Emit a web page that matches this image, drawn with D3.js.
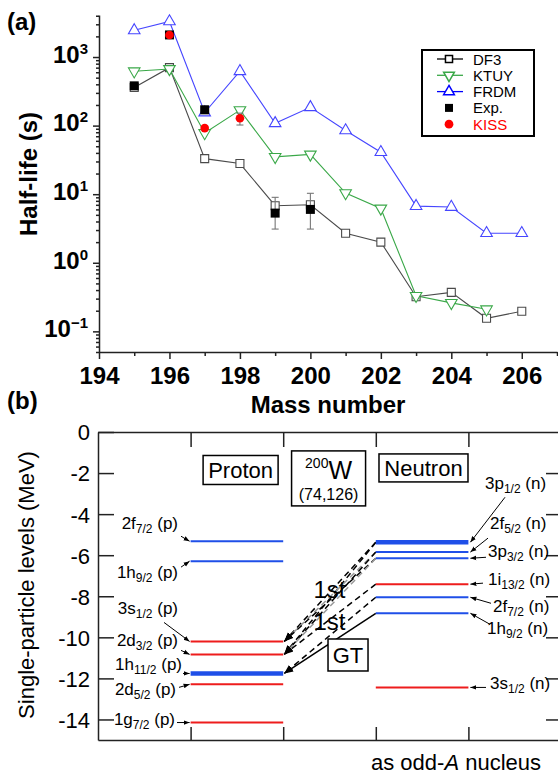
<!DOCTYPE html>
<html>
<head>
<meta charset="utf-8">
<script src="https://cdn.jsdelivr.net/npm/d3@7"></script>
<style>
  body { margin: 0; background: #fff; }
  svg { display: block; }
  text { font-family: "Liberation Sans", Arial, Helvetica, sans-serif; }
</style>
</head>
<body>
<svg id="fig" width="558" height="774"></svg>
<script>
// ---------- (a) beta-decay half-lives of W isotopes ----------
const massNumbers = [195, 196, 197, 198, 199, 200, 201, 202, 203, 204, 205, 206];
const df3HalfLives = [360, 700, 33, 28, 6.8, 7.0, 2.7, 2.0, 0.32, 0.37, 0.155, 0.196];
const ktuyMass = [195, 196, 197, 198, 199, 200, 201, 202, 203, 204, 205];
const ktuyHalfLives = [620, 670, 78, 168, 35, 38, 10.4, 6.2, 0.33, 0.26, 0.21];
const frdmHalfLives = [2450, 3300, 155, 620, 108, 185, 85, 41, 6.7, 6.5, 2.7, 2.7];
const expMass = [195, 196, 197, 199, 200];
const expHalfLives = [380, 2100, 170, 5.3, 6.0];
const expLower = [345, 1950, 150, 3.1, 3.1];
const expUpper = [415, 2250, 192, 9.0, 10.3];
const kissMass = [196, 197, 198];
const kissHalfLives = [2100, 92, 128];
const kissLower = [2000, 86, 102];
const kissUpper = [2200, 98, 152];
const halfLifeDecades = [-1, 0, 1, 2, 3];
const massTickLabels = [194, 196, 198, 200, 202, 204, 206];

// ---------- (b) single-particle levels of 200W (74,126) ----------
const protonOrbitals = ["2f7/2", "1h9/2", "3s1/2", "2d3/2", "1h11/2", "2d5/2", "1g7/2"];
const protonEnergies = [-5.32, -6.29, -10.20, -10.83, -11.76, -12.29, -14.15];
const neutronOrbitals = ["3p1/2", "2f5/2", "3p3/2", "1i13/2", "2f7/2", "1h9/2", "3s1/2"];
const neutronEnergies = [-5.37, -5.85, -6.15, -7.41, -8.05, -8.83, -12.44];
const gtTransitions = [["1h9/2", "1h11/2"]];
const firstForbiddenTransitions = [
  ["3p1/2", "3s1/2"], ["3p1/2", "2d3/2"], ["2f5/2", "3s1/2"], ["2f5/2", "2d3/2"],
  ["3p3/2", "3s1/2"], ["3p3/2", "2d3/2"], ["1i13/2", "2d3/2"], ["2f7/2", "1h11/2"]
];
const energyTicks = [0, -2, -4, -6, -8, -10, -12, -14];

// ---------- styling / layout ----------
const colors = { df3: "#4a4a4a", ktuy: "#3aa848", frdm: "#4646ff", exp: "#000", kiss: "#f00",
                 err: "#777", posParity: "#ee1c1c", negParity: "#1f4fe8" };
const thickLevels = { p: new Set(["1h11/2"]), n: new Set(["3p1/2"]) };
const faintTransitions = new Set(["2f5/2>3s1/2", "3p3/2>2d3/2"]);
// label placement: anchor x, baseline offset from level (px), arrow tail (x, y offset)
const protonLabelLayout = {
  "2f7/2": [178, -12, 181, -5], "1h9/2": [178, 17, 181, 6], "3s1/2": [178, -27, 164, -19],
  "2d3/2": [178, -8, 181, -4], "1h11/2": [182, -3, 183, 0], "2d5/2": [176, 11, 179, 3],
  "1g7/2": [175, 2, 177, 0]
};
const neutronLabelLayout = {
  "3p1/2": [485, -53, 505, -45], "2f5/2": [490, -23, 488, -14], "3p3/2": [488, -1, 486, -1],
  "1i13/2": [488, 1, 483, -1], "2f7/2": [493, 15, 491, 6], "1h9/2": [487, 21, 490, 11],
  "3s1/2": [490, 2, 486, 0]
};

const svg = d3.select("#fig");
const defs = svg.append("defs");
function addArrow(id, size) {
  defs.append("marker").attr("id", id)
    .attr("viewBox", "0 0 10 10").attr("refX", 10).attr("refY", 5)
    .attr("markerWidth", size).attr("markerHeight", size)
    .attr("markerUnits", "userSpaceOnUse").attr("orient", "auto")
    .append("path").attr("d", "M0,1.2L10,5L0,8.8Z").attr("fill", "#000");
}
addArrow("arrowBig", 9);
addArrow("arrowSmall", 6);

// ================= Panel (a) =================
const xA = d3.scaleLinear().domain([194, 207]).range([99, 557]);
const yA = d3.scaleLog().domain([0.05, 4100]).range([352, 15]);
const gA = svg.append("g");

// axes
const axisStyle = g => {
  g.attr("font-family", null).attr("font-size", null);
  g.selectAll("path, line").attr("stroke", "#222").attr("stroke-width", 1.5);
};
const minorY = yA.ticks().filter(v => Math.abs(Math.log10(v) - Math.round(Math.log10(v))) > 1e-6);
gA.append("g").attr("transform", "translate(99,0)")
  .call(d3.axisLeft(yA).tickValues(minorY).tickSize(3).tickSizeOuter(0).tickFormat(() => ""))
  .call(axisStyle).call(g => g.select(".domain").remove());
const gYA = gA.append("g").attr("transform", "translate(99,0)")
  .call(d3.axisLeft(yA).tickValues(halfLifeDecades.map(p => Math.pow(10, p)))
    .tickSize(6).tickSizeOuter(0).tickPadding(5))
  .call(axisStyle);
gYA.selectAll(".tick text").each(function (d, i) {
  const t = d3.select(this).text(null)
    .attr("dy", "0.22em").attr("font-size", 24).attr("font-weight", "bold").attr("fill", "#000");
  const p = halfLifeDecades[i];
  t.append("tspan").text("10");
  t.append("tspan").attr("dy", -9).attr("font-size", 15).text(p < 0 ? "\u2212" + (-p) : String(p));
});
const minorX = xA.ticks(13).filter(v => v % 2 === 1);
gA.append("g").attr("transform", "translate(0,352)")
  .call(d3.axisBottom(xA).tickValues(minorX).tickSize(4).tickSizeOuter(0).tickFormat(() => ""))
  .call(axisStyle).call(g => g.select(".domain").remove());
gA.append("g").attr("transform", "translate(0,352)")
  .call(d3.axisBottom(xA).tickValues(massTickLabels).tickSize(7).tickSizeOuter(0).tickPadding(8)
    .tickFormat(d3.format("d")))
  .call(axisStyle)
  .call(g => g.selectAll(".tick text").attr("font-size", 24).attr("font-weight", "bold").attr("fill", "#000"));

gA.append("text").attr("x", 328).attr("y", 413).attr("text-anchor", "middle")
  .attr("font-size", 24).attr("font-weight", "bold").text("Mass number");
gA.append("text").attr("transform", "translate(37,174) rotate(-90)").attr("text-anchor", "middle")
  .attr("font-size", 24).attr("font-weight", "bold").text("Half-life (s)");
gA.append("text").attr("x", 7).attr("y", 30).attr("font-size", 24).attr("font-weight", "bold").text("(a)");

// series
const zip = (xs, ys) => xs.map((x, i) => [x, ys[i]]);
const lineA = d3.line().x(d => xA(d[0])).y(d => yA(d[1]));
const theory = [
  { key: "df3", label: "DF3", pts: zip(massNumbers, df3HalfLives), symbol: d3.symbolSquare, size: 64, rot: 0 },
  { key: "ktuy", label: "KTUY", pts: zip(ktuyMass, ktuyHalfLives), symbol: d3.symbolTriangle, size: 58, rot: 180 },
  { key: "frdm", label: "FRDM", pts: zip(massNumbers, frdmHalfLives), symbol: d3.symbolTriangle, size: 58, rot: 0 }
];
theory.forEach(s => {
  gA.append("path").attr("d", lineA(s.pts)).attr("fill", "none")
    .attr("stroke", colors[s.key]).attr("stroke-width", 1.1);
});
theory.forEach(s => {
  gA.selectAll(null).data(s.pts).join("path")
    .attr("transform", d => `translate(${xA(d[0])},${yA(d[1])}) rotate(${s.rot})`)
    .attr("d", d3.symbol(s.symbol, s.size))
    .attr("fill", "#fff").attr("stroke", colors[s.key]).attr("stroke-width", 1.1);
});

function errorBars(xs, lo, hi) {
  const g = gA.append("g").attr("stroke", colors.err).attr("stroke-width", 1.1);
  xs.forEach((x, i) => {
    const cx = xA(x);
    g.append("line").attr("x1", cx).attr("x2", cx).attr("y1", yA(lo[i])).attr("y2", yA(hi[i]));
    [lo[i], hi[i]].forEach(v => g.append("line").attr("x1", cx - 3.5).attr("x2", cx + 3.5)
      .attr("y1", yA(v)).attr("y2", yA(v)));
  });
}
errorBars(expMass, expLower, expUpper);
errorBars(kissMass, kissLower, kissUpper);
gA.selectAll(null).data(zip(expMass, expHalfLives)).join("path")
  .attr("transform", d => `translate(${xA(d[0])},${yA(d[1])})`)
  .attr("d", d3.symbol(d3.symbolSquare, 81)).attr("fill", colors.exp);
gA.selectAll(null).data(zip(kissMass, kissHalfLives)).join("circle")
  .attr("cx", d => xA(d[0])).attr("cy", d => yA(d[1])).attr("r", 4.3).attr("fill", colors.kiss);

// legend
const legend = gA.append("g");
legend.append("rect").attr("x", 422).attr("y", 50).attr("width", 112).attr("height", 86)
  .attr("fill", "#fff").attr("stroke", "#000").attr("stroke-width", 2);
const legendItems = [
  { label: "DF3", color: "#000", line: true, symbol: d3.symbolSquare, size: 50, rot: 0, fill: "#fff" },
  { label: "KTUY", color: colors.ktuy, line: true, symbol: d3.symbolTriangle, size: 50, rot: 180, fill: "#fff" },
  { label: "FRDM", color: "#0000ff", line: true, symbol: d3.symbolTriangle, size: 50, rot: 0, fill: "#fff" },
  { label: "Exp.", color: "#000", line: false, symbol: d3.symbolSquare, size: 64, rot: 0, fill: "#000" },
  { label: "KISS", color: colors.kiss, line: false, symbol: d3.symbolCircle, size: 60, rot: 0, fill: colors.kiss }
];
legendItems.forEach((it, i) => {
  const y = 59 + i * 16.3;
  if (it.line) legend.append("line").attr("x1", 437).attr("x2", 463).attr("y1", y).attr("y2", y)
    .attr("stroke", it.color).attr("stroke-width", 1.3);
  legend.append("path").attr("transform", `translate(449,${y}) rotate(${it.rot})`)
    .attr("d", d3.symbol(it.symbol, it.size)).attr("fill", it.fill)
    .attr("stroke", it.line ? it.color : "none").attr("stroke-width", 1.5);
  legend.append("text").attr("x", 473).attr("y", y + 5.5).attr("font-size", 15)
    .attr("fill", it.label === "KISS" ? colors.kiss : "#000").text(it.label);
});

// ================= Panel (b) =================
const xB = d3.scaleLinear().domain([0, 5]).range([98, 561]);
const yB = d3.scaleLinear().domain([-15, 0]).range([740, 432]);
const gB = svg.append("g");

gB.append("g").attr("transform", "translate(98,0)")
  .call(d3.axisLeft(yB).tickValues(energyTicks).tickSize(-16).tickSizeOuter(0).tickPadding(8)
    .tickFormat(d => String(d)))
  .call(axisStyle)
  .call(g => g.selectAll(".tick text").attr("font-size", 22).attr("fill", "#000").attr("dy", "0.36em"));
gB.append("g").attr("transform", "translate(561,0)")
  .call(d3.axisRight(yB).tickValues(energyTicks.filter(v => v < 0)).tickSize(-15).tickSizeOuter(0).tickFormat(() => ""))
  .call(axisStyle);
gB.append("g").attr("transform", "translate(0,432)")
  .call(d3.axisTop(xB).tickValues([1, 2, 3, 4]).tickSize(-15).tickSizeOuter(0).tickFormat(() => ""))
  .call(axisStyle);
gB.append("g").attr("transform", "translate(0,740)")
  .call(d3.axisBottom(xB).tickValues([1, 2, 3, 4]).tickSize(-13).tickSizeOuter(0).tickFormat(() => ""))
  .call(axisStyle);

gB.append("text").attr("transform", "translate(34,585) rotate(-90)").attr("text-anchor", "middle")
  .attr("font-size", 22).text("Single-particle levels (MeV)");
gB.append("text").attr("x", 7).attr("y", 409).attr("font-size", 24).attr("font-weight", "bold").text("(b)");
const oddA = gB.append("text").attr("x", 456).attr("y", 770).attr("text-anchor", "middle").attr("font-size", 22);
oddA.append("tspan").text("as odd-");
oddA.append("tspan").attr("font-style", "italic").text("A");
oddA.append("tspan").text(" nucleus");

const evenL = new Set(["s", "d", "g", "i"]);
const parityColor = name => evenL.has(name.match(/[a-z]/)[0]) ? colors.posParity : colors.negParity;
const protonE = Object.fromEntries(protonOrbitals.map((n, i) => [n, protonEnergies[i]]));
const neutronE = Object.fromEntries(neutronOrbitals.map((n, i) => [n, neutronEnergies[i]]));

// transitions (drawn beneath the levels)
const pEnd = xB(2) + 1, nStart = xB(3);
firstForbiddenTransitions.forEach(([n, p]) => {
  gB.append("line").attr("x1", nStart).attr("y1", yB(neutronE[n])).attr("x2", pEnd).attr("y2", yB(protonE[p]))
    .attr("stroke", faintTransitions.has(n + ">" + p) ? "#999" : "#000")
    .attr("stroke-width", 1.5).attr("stroke-dasharray", "6,4").attr("marker-end", "url(#arrowBig)");
});
gtTransitions.forEach(([n, p]) => {
  gB.append("line").attr("x1", nStart).attr("y1", yB(neutronE[n])).attr("x2", pEnd).attr("y2", yB(protonE[p]))
    .attr("stroke", "#000").attr("stroke-width", 1.5).attr("marker-end", "url(#arrowBig)");
});

// levels
function drawLevels(names, energies, x0, x1, thick) {
  gB.selectAll(null).data(names.map((n, i) => [n, energies[i]])).join("line")
    .attr("x1", xB(x0)).attr("x2", xB(x1))
    .attr("y1", d => yB(d[1])).attr("y2", d => yB(d[1]))
    .attr("stroke", d => parityColor(d[0])).attr("stroke-width", d => thick.has(d[0]) ? 4.5 : 2);
}
drawLevels(protonOrbitals, protonEnergies, 1, 2, thickLevels.p);
drawLevels(neutronOrbitals, neutronEnergies, 3, 4, thickLevels.n);

// level labels with pointers
function orbitalLabel(name, particle, layout, anchor, tipX, energy) {
  const [lx, dy, ax, ady] = layout;
  const y = yB(energy);
  const m = name.match(/^(\d[a-z])(\d+\/2)$/);
  const t = gB.append("text").attr("x", lx).attr("y", y + dy).attr("text-anchor", anchor).attr("font-size", 17);
  t.append("tspan").text(m[1]);
  t.append("tspan").attr("font-size", 12).attr("dy", 4).text(m[2]);
  t.append("tspan").attr("dy", -4).text(` (${particle})`);
  gB.append("line").attr("x1", ax).attr("y1", y + ady).attr("x2", tipX).attr("y2", y)
    .attr("stroke", "#000").attr("stroke-width", 1).attr("marker-end", "url(#arrowSmall)");
}
protonOrbitals.forEach((n, i) => orbitalLabel(n, "p", protonLabelLayout[n], "end", xB(1) - 1, protonEnergies[i]));
neutronOrbitals.forEach((n, i) => orbitalLabel(n, "n", neutronLabelLayout[n], "start", xB(4) + 2, neutronEnergies[i]));

// boxed annotations
function boxed(cx, cy, w, h) {
  gB.append("rect").attr("x", cx - w / 2).attr("y", cy - h / 2).attr("width", w).attr("height", h)
    .attr("fill", "#fff").attr("stroke", "#000").attr("stroke-width", 1.5);
}
boxed(xB(1.54), yB(-1.85), 75, 29);
gB.append("text").attr("x", xB(1.54)).attr("y", yB(-1.85) + 8).attr("text-anchor", "middle").attr("font-size", 22).text("Proton");
boxed(xB(3.515), yB(-1.75), 89, 28);
gB.append("text").attr("x", xB(3.515)).attr("y", yB(-1.75) + 8).attr("text-anchor", "middle").attr("font-size", 22).text("Neutron");
boxed(xB(2.49), yB(-2.26), 74, 55);
const wLabel = gB.append("text").attr("x", xB(2.49)).attr("y", yB(-2.26) + 1).attr("text-anchor", "middle");
wLabel.append("tspan").attr("font-size", 14).attr("dy", -11).text("200");
wLabel.append("tspan").attr("font-size", 25).attr("dy", 11).text("W");
gB.append("text").attr("x", xB(2.49)).attr("y", yB(-2.26) + 22).attr("text-anchor", "middle").attr("font-size", 16).text("(74,126)");
boxed(xB(2.70), yB(-10.86), 40, 32);
gB.append("text").attr("x", xB(2.70)).attr("y", yB(-10.86) + 8).attr("text-anchor", "middle").attr("font-size", 22).text("GT");

gB.append("text").attr("x", xB(2.5)).attr("y", yB(-7.7) + 8).attr("text-anchor", "middle").attr("font-size", 24).text("1st");
gB.append("text").attr("x", xB(2.5)).attr("y", yB(-9.25) + 8).attr("text-anchor", "middle").attr("font-size", 24).text("1st");
</script>
</body>
</html>
